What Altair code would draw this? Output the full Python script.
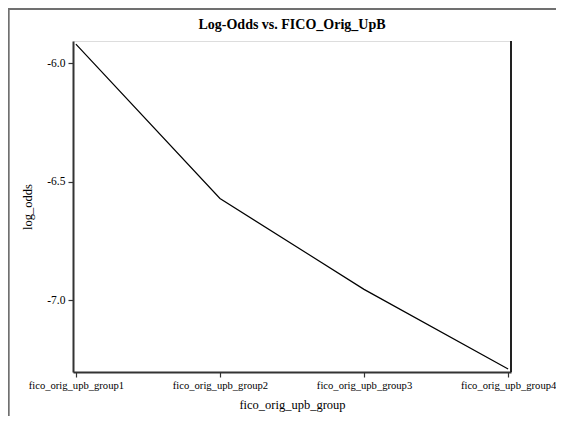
import altair as alt
import pandas as pd

groups = ["fico_orig_upb_group1", "fico_orig_upb_group2", "fico_orig_upb_group3", "fico_orig_upb_group4"]
log_odds = [-5.919, -6.571, -6.955, -7.291]
title_text = ["Log-Odds vs. FICO_Orig_UpB"]

df = pd.DataFrame({"fico_orig_upb_group": groups, "log_odds": log_odds})
df_title = pd.DataFrame({"t": title_text})

W, H = 438, 331
FONT = "Liberation Serif"

line = alt.Chart(df).mark_line(color="black", strokeWidth=1.2).encode(
    x=alt.X("fico_orig_upb_group:N", sort=groups,
            scale=alt.Scale(type="point", padding=0.02),
            axis=alt.Axis(title="fico_orig_upb_group", labelAngle=0, labelFont=FONT,
                          labelFontSize=10.6, labelColor="black", titleFont=FONT,
                          titleFontSize=12.5, titleFontWeight="normal", titleColor="black",
                          domainColor="#333333", domainWidth=2, tickColor="#333333",
                          tickSize=5, tickWidth=1.2, labelPadding=3, labelBound=False,
                          titleY=32, titleBaseline="middle")),
    y=alt.Y("log_odds:Q",
            scale=alt.Scale(domain=[-7.304, -5.906], nice=False, zero=False),
            axis=alt.Axis(title="log_odds", values=[-6.0, -6.5, -7.0],
                          labelExpr="replace(format(datum.value, '.1f'), '\u2212', '-')",
                          labelFont=FONT, labelFontSize=11.5, labelColor="black",
                          titleFont=FONT, titleFontSize=12.5, titleFontWeight="normal",
                          titleColor="black", domainColor="#333333", domainWidth=2,
                          tickColor="#333333", tickSize=5, tickWidth=1.2, grid=False,
                          labelPadding=3, titleX=-46, titleY=H / 2, titleAngle=-90,
                          titleAlign="center", titleBaseline="middle")),
)

right_border = alt.Chart(df).mark_rule(color="#222222", strokeWidth=1.5).encode(
    x=alt.value(W), y=alt.value(0), y2=alt.value(H)
)

outer_left = alt.Chart(df).mark_rule(stroke="#707070", strokeWidth=1.5, clip=False).encode(
    x=alt.value(-64.5), y=alt.value(-32), y2=alt.value(600)
)
outer_top = alt.Chart(df).mark_rule(stroke="#707070", strokeWidth=1.5, clip=False).encode(
    x=alt.value(-65), x2=alt.value(700), y=alt.value(-32)
)

title = alt.Chart(df_title).mark_text(font=FONT, fontSize=14, fontWeight="bold",
                                      color="black", align="center",
                                      baseline="middle").encode(
    text="t:N", x=alt.value(W / 2), y=alt.value(-16)
)

chart = alt.layer(outer_left, outer_top, line, right_border, title).properties(
    width=W, height=H,
    autosize=alt.AutoSizeParams(type="none"),
    padding={"left": 65, "top": 33, "right": 45, "bottom": 44},
).configure_view(stroke="#c8c8c8", strokeWidth=1.5).configure(background="white")

chart.save("out.html", embed_options={"renderer": "svg", "actions": False})
